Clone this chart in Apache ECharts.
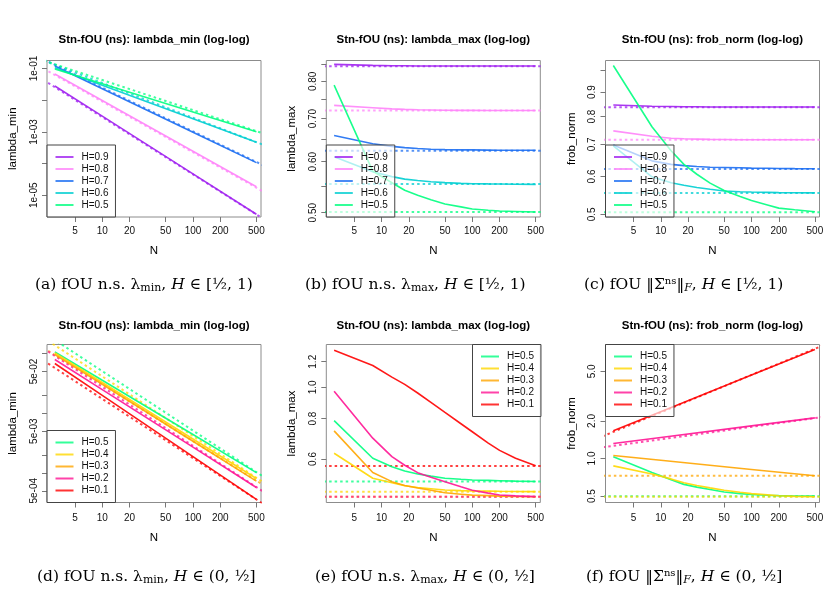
<!DOCTYPE html>
<html><head><meta charset="utf-8">
<script src="https://cdn.jsdelivr.net/npm/echarts@6/dist/echarts.min.js"></script>
<style>html,body{margin:0;padding:0;background:#fff}#c{width:831px;height:594px}</style>
</head><body><div id="c"></div><script>
// ---------- data ----------
const NC = [3, 8, 13, 18, 25, 35, 50, 75, 100, 150, 200, 300, 500];   // curve grid
const NL = [3, 10, 100, 500];                                          // straight (log-log) lines
const NR = [2, 700];                                                   // reference lines (dotted)
const xTicks = [5, 10, 20, 50, 100, 200, 500];
const namesHi = ['H=0.9', 'H=0.8', 'H=0.7', 'H=0.6', 'H=0.5'];
const namesLo = ['H=0.5', 'H=0.4', 'H=0.3', 'H=0.2', 'H=0.1'];

// (a) lambda_min, H >= 1/2 (at NL)
const lminHi = [
  [2.81e-2, 3.13e-3, 4.71e-5, 2.51e-6],
  [6.71e-2, 9.74e-3, 2.44e-4, 1.85e-5],
  [0.120, 2.30e-2, 9.73e-4, 1.07e-4],
  [0.106, 2.96e-2, 2.58e-3, 4.70e-4],
  [0.0964, 3.30e-2, 4.23e-3, 1.007e-3]
];
const lminHiRef = [[0.0537, 1.35e-6], [0.119, 1.01e-5], [0.2296, 7.05e-5], [0.205, 3.26e-4], [0.200, 7.67e-4]];

// (b) lambda_max, H >= 1/2 (at NC)
const lmaxHi = [
  [0.850, 0.847, 0.846, 0.846, 0.845, 0.845, 0.845, 0.845, 0.845, 0.845, 0.845, 0.845, 0.845],
  [0.734, 0.728, 0.725, 0.7235, 0.7225, 0.722, 0.7214, 0.721, 0.721, 0.7208, 0.7207, 0.7206, 0.7206],
  [0.659, 0.6398, 0.6339, 0.631, 0.6289, 0.6274, 0.6266, 0.626, 0.626, 0.6255, 0.6252, 0.625, 0.625],
  [0.611, 0.579, 0.5688, 0.5637, 0.561, 0.5586, 0.5567, 0.5553, 0.5546, 0.5542, 0.554, 0.5536, 0.5533],
  [0.789, 0.580, 0.5564, 0.5418, 0.532, 0.5237, 0.5158, 0.5104, 0.5066, 0.5044, 0.503, 0.5022, 0.5012]
];
const lmaxHiRef = [[0.844, 0.844], [0.7206, 0.7206], [0.6242, 0.6242], [0.554, 0.554], [0.5013, 0.5013]];

// (c) frob_norm, H >= 1/2 (at NC)
const frobHi = [
  [0.846, 0.841, 0.840, 0.839, 0.839, 0.838, 0.838, 0.838, 0.838, 0.838, 0.838, 0.838, 0.838],
  [0.747, 0.728, 0.721, 0.719, 0.718, 0.717, 0.7165, 0.716, 0.716, 0.716, 0.716, 0.716, 0.716],
  [0.698, 0.6467, 0.6358, 0.632, 0.6292, 0.6273, 0.6264, 0.6255, 0.6245, 0.624, 0.6235, 0.623, 0.6226],
  [0.695, 0.599, 0.582, 0.5752, 0.5688, 0.564, 0.5595, 0.5574, 0.5566, 0.5558, 0.555, 0.5546, 0.5543],
  [1.023, 0.762, 0.679, 0.6357, 0.6063, 0.5809, 0.5607, 0.5448, 0.5342, 0.5230, 0.5151, 0.5111, 0.5064]
];
const frobHiRef = [[0.837, 0.837], [0.716, 0.716], [0.622, 0.622], [0.554, 0.554], [0.505, 0.505]];

// (d) lambda_min, H <= 1/2 (at NL)
const lminLo = [
  [0.1067, 0.0356, 4.38e-3, 1.009e-3],
  [0.1026, 0.0327, 3.69e-3, 8.04e-4],
  [0.0962, 0.0305, 3.38e-3, 7.24e-4],
  [0.0794, 0.0248, 2.69e-3, 5.68e-4],
  [0.0679, 0.0198, 1.87e-3, 3.59e-4]
];
const lminLoRef = [[0.252, 7.34e-4], [0.2065, 5.9e-4], [0.1384, 5.38e-4], [0.136, 4.12e-4], [0.0857, 2.56e-4]];

// (e) lambda_max, H <= 1/2 (at NC)
const lmaxLo = [
  [0.789, 0.603, 0.568, 0.5506, 0.539, 0.5309, 0.5228, 0.5191, 0.5167, 0.5153, 0.514, 0.5124, 0.5111],
  [0.625, 0.523, 0.5063, 0.4959, 0.4894, 0.4853, 0.481, 0.4789, 0.4776, 0.477, 0.4765, 0.476, 0.4754],
  [0.733, 0.545, 0.5105, 0.4968, 0.4877, 0.4804, 0.4715, 0.4669, 0.4637, 0.462, 0.4605, 0.4594, 0.4584],
  [0.972, 0.696, 0.610, 0.5739, 0.5443, 0.527, 0.5105, 0.4926, 0.4804, 0.4705, 0.4644, 0.4613, 0.4589],
  [1.303, 1.168, 1.0755, 1.021, 0.9605, 0.898, 0.836, 0.7714, 0.7285, 0.672, 0.638, 0.603, 0.572]
];
const lmaxLoRef = [[0.511, 0.511], [0.4754, 0.4754], [0.4584, 0.4584], [0.4584, 0.4584], [0.5705, 0.5705]];

// (f) frob_norm, H <= 1/2 (H=0.5,0.4 at NC; H=0.3,0.2,0.1 at NL)
const frobLoN = [NC, NC, NL, NL, NL];
const frobLo = [
  [1.031, 0.772, 0.675, 0.620, 0.589, 0.564, 0.539, 0.523, 0.514, 0.507, 0.5035, 0.5004, 0.499],
  [0.873, 0.752, 0.686, 0.638, 0.6076, 0.5813, 0.5555, 0.5354, 0.5223, 0.5104, 0.5018, 0.4966, 0.4928],
  [1.057, 0.967, 0.817, 0.726],
  [1.319, 1.475, 1.826, 2.119],
  [1.667, 2.375, 4.67, 7.49]
];
const frobLoRef = [[0.499, 0.499], [0.493, 0.493], [0.726, 0.726], [1.214, 2.178], [1.447, 8.39]];

// y tick / label values
const yTicksA = [1e-1, 1e-2, 1e-3, 1e-4, 1e-5];
const yLabelsA = [1e-1, 1e-3, 1e-5];
const yTicksB = [0.5, 0.55, 0.6, 0.65, 0.7, 0.75, 0.8, 0.85];
const yLabelsB = [0.5, 0.6, 0.7, 0.8];
const yTicksC = [0.5, 0.6, 0.7, 0.8, 0.9, 1.0];
const yLabelsC = [0.5, 0.6, 0.7, 0.8, 0.9];
const yTicksD = [0.1, 0.05, 0.02, 0.01, 0.005, 0.002, 0.001, 0.0005];
const yLabelsD = [0.05, 0.005, 0.0005];
const yTicksE = [0.6, 0.8, 1.0, 1.2];
const yTicksF = [0.5, 1.0, 2.0, 5.0];

// ---------- styling / layout ----------
const FONT = 'Liberation Sans';
const SERIF = 'DejaVu Serif';
const colHi = ['#A020F0', '#FF83FA', '#1C6EF2', '#00CED1', '#00FF7F'];
const colLo = ['#00FF7F', '#FFD700', '#FFA500', '#FF1493', '#FF0000'];
const X_MIN = 2.46, X_MAX = 562;
const boxes = [
  {left: 47, top: 60.5, width: 214, height: 156.5},
  {left: 326.3, top: 60.5, width: 214, height: 156.5},
  {left: 605.5, top: 60.5, width: 214, height: 156.5},
  {left: 47, top: 344.5, width: 214, height: 158},
  {left: 326.3, top: 344.5, width: 214, height: 158},
  {left: 605.5, top: 344.5, width: 214, height: 158}
];

const expFmt = v => v.toExponential(0).replace(/e([+-])(\d)$/, (m, s, d) => 'e' + s + '0' + d);

const grids = boxes.map(b => ({left: b.left, top: b.top, width: b.width, height: b.height, show: true,
  borderColor: '#8c8c8c', borderWidth: 1, backgroundColor: 'transparent', containLabel: false, outerBoundsMode: 'none'}));

const xAxes = boxes.map((b, p) => ({
  type: 'log', logBase: 10, gridIndex: p, min: X_MIN, max: X_MAX,
  name: 'N', nameLocation: 'middle', nameGap: p < 3 ? 27.5 : 29.5,
  nameTextStyle: {fontFamily: FONT, fontSize: 11.5, color: '#000'},
  axisLine: {show: false}, splitLine: {show: false}, minorTick: {show: false},
  axisTick: {show: true, inside: false, length: 5, lineStyle: {color: '#777'}, customValues: xTicks},
  axisLabel: {show: true, margin: p < 3 ? 9 : 10.5, fontFamily: FONT, fontSize: 10, color: '#111', customValues: xTicks,
    formatter: v => String(Math.round(v))}
}));

function yAx(p, min, max, ticks, labels, fmt, name) {
  return {
    type: 'log', logBase: 10, gridIndex: p, min: min, max: max,
    name: name, nameLocation: 'middle', nameGap: 28,
    nameTextStyle: {fontFamily: FONT, fontSize: 11.5, color: '#000'},
    axisLine: {show: false}, splitLine: {show: false}, minorTick: {show: false},
    axisTick: {show: true, inside: false, length: 5, lineStyle: {color: '#777'}, customValues: ticks},
    axisLabel: {show: true, rotate: 90, margin: 8, fontFamily: FONT, fontSize: 10, color: '#111', customValues: labels, formatter: fmt}
  };
}
const yAxes = [
  yAx(0, 2.06e-6, 0.1787, yTicksA, yLabelsA, expFmt, 'lambda_min'),
  yAx(1, 0.4923, 0.8619, yTicksB, yLabelsB, v => v.toFixed(2), 'lambda_max'),
  yAx(2, 0.4936, 1.048, yTicksC, yLabelsC, v => v.toFixed(1), 'frob_norm'),
  yAx(3, 3.18e-4, 0.1415, yTicksD, yLabelsD, expFmt, 'lambda_min'),
  yAx(4, 0.44, 1.357, yTicksE, yTicksE, v => v.toFixed(1), 'lambda_max'),
  yAx(5, 0.4436, 8.21, yTicksF, yTicksF, v => v.toFixed(1), 'frob_norm')
];

const series = [];
function panel(p, names, colors, xs, vals, refs) {
  names.forEach((nm, i) => {
    const xl = Array.isArray(xs[0]) ? xs[i] : xs;
    series.push({type: 'line', name: nm, xAxisIndex: p, yAxisIndex: p, symbol: 'none', silent: true, z: 3,
      lineStyle: {color: colors[i], width: 1.6, opacity: 0.9}, itemStyle: {color: colors[i]},
      data: xl.map((n, k) => [n, vals[i][k]])});
    series.push({type: 'line', name: 'ref ' + nm, xAxisIndex: p, yAxisIndex: p, symbol: 'none', silent: true, z: 2,
      lineStyle: {color: colors[i], width: 2, type: [2.5, 3], opacity: 0.75}, itemStyle: {color: colors[i]},
      data: NR.map((n, k) => [n, refs[i][k]])});
  });
}
panel(0, namesHi, colHi, NL, lminHi, lminHiRef);
panel(1, namesHi, colHi, NC, lmaxHi, lmaxHiRef);
panel(2, namesHi, colHi, NC, frobHi, frobHiRef);
panel(3, namesLo, colLo, NL, lminLo, lminLoRef);
panel(4, namesLo, colLo, NC, lmaxLo, lmaxLoRef);
panel(5, namesLo, colLo, frobLoN, frobLo, frobLoRef);

function leg(left, top, names) {
  return {show: true, orient: 'vertical', left: left, top: top, data: names, icon: 'rect',
    itemWidth: 18, itemHeight: 2, itemGap: 0, padding: [6, 7, 6, 8.5],
    borderColor: '#444', borderWidth: 1, borderRadius: 0, backgroundColor: 'rgba(255,255,255,0.65)',
    textStyle: {fontFamily: FONT, fontSize: 10, color: '#111', lineHeight: 12, padding: [0, 0, 0, 3]},
    selectedMode: false, itemStyle: {opacity: 0.8}};
}
const legends = [
  leg(47, 145, namesHi), leg(326.3, 145, namesHi), leg(605.5, 145, namesHi),
  leg(47, 430.5, namesLo), leg(472.5, 344.5, namesLo), leg(605.5, 344.5, namesLo)
];

const titles = ['Stn-fOU (ns): lambda_min (log-log)', 'Stn-fOU (ns): lambda_max (log-log)', 'Stn-fOU (ns): frob_norm (log-log)'];
const graphics = [];
boxes.forEach((b, p) => {
  graphics.push({type: 'text', x: b.left + b.width / 2, y: p < 3 ? 40 : 325.7, silent: true,
    style: {text: titles[p % 3], fill: '#000', font: 'bold 11.5px ' + FONT, textAlign: 'center', textVerticalAlign: 'middle'}});
});
const capRich = {
  sub: {fontFamily: SERIF, fontSize: 11, padding: [7, 0, 0, 0], fill: '#000'},
  subi: {fontFamily: SERIF, fontSize: 11, fontStyle: 'italic', padding: [7, 0, 0, 0], fill: '#000'},
  sup: {fontFamily: SERIF, fontSize: 10, padding: [0, 0, 8, 0], fill: '#000'},
  it: {fontFamily: SERIF, fontSize: 15.5, fontStyle: 'italic', fill: '#000'}
};
const captions = [
  {t: '(a) fOU n.s. λ{sub|min}, {it|H} ∈ [½, 1)', x: 35, y: 285},
  {t: '(b) fOU n.s. λ{sub|max}, {it|H} ∈ [½, 1)', x: 305, y: 285},
  {t: '(c) fOU ‖Σ{sup|ns}‖{subi|F}, {it|H} ∈ [½, 1)', x: 584, y: 285},
  {t: '(d) fOU n.s. λ{sub|min}, {it|H} ∈ (0, ½]', x: 37, y: 577},
  {t: '(e) fOU n.s. λ{sub|max}, {it|H} ∈ (0, ½]', x: 315, y: 577},
  {t: '(f) fOU ‖Σ{sup|ns}‖{subi|F}, {it|H} ∈ (0, ½]', x: 586, y: 577}
];
captions.forEach(c => graphics.push({type: 'text', x: c.x, y: c.y, silent: true,
  style: {text: c.t, fill: '#000', fontFamily: SERIF, fontSize: 15.5, textAlign: 'left', textVerticalAlign: 'middle', rich: capRich}}));

const chart = echarts.init(document.getElementById('c'), null, {renderer: 'canvas', width: 831, height: 594});
chart.setOption({
  animation: false,
  backgroundColor: '#fff',
  grid: grids, xAxis: xAxes, yAxis: yAxes,
  legend: legends, series: series, graphic: graphics
});
</script></body></html>
